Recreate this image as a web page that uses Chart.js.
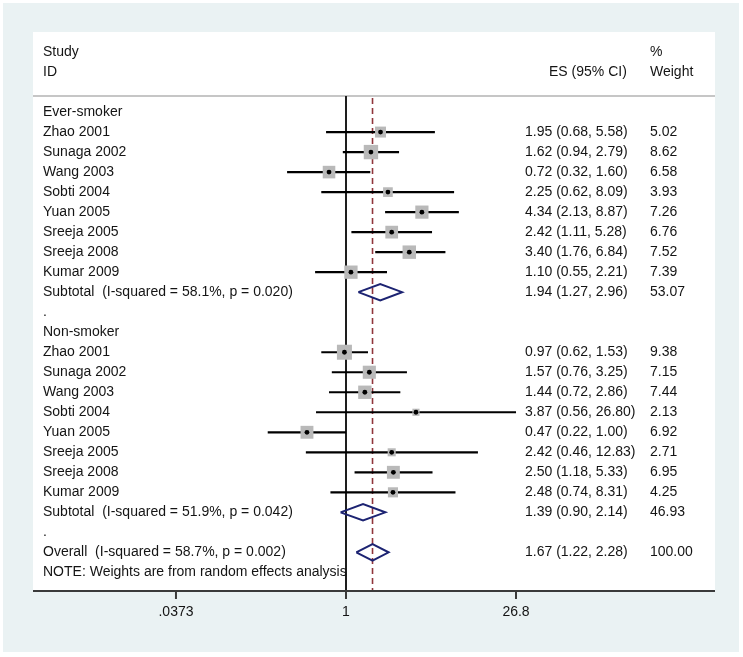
<!DOCTYPE html>
<html>
<head>
<meta charset="utf-8">
<script src="https://cdn.jsdelivr.net/npm/chart.js@4.4.1/dist/chart.umd.min.js"></script>
<style>
  html, body { margin: 0; padding: 0; background: #ffffff; }
  #wrap { width: 743px; height: 657px; }
</style>
</head>
<body>
<div id="wrap"><canvas id="forest" width="743" height="657"></canvas></div>
<script>
// Study data
const studies = ['Zhao 2001', 'Sunaga 2002', 'Wang 2003', 'Sobti 2004', 'Yuan 2005', 'Sreeja 2005', 'Sreeja 2008', 'Kumar 2009'];

const everES = [1.95, 1.62, 0.72, 2.25, 4.34, 2.42, 3.40, 1.10];
const everLo = [0.68, 0.94, 0.32, 0.62, 2.13, 1.11, 1.76, 0.55];
const everHi = [5.58, 2.79, 1.60, 8.09, 8.87, 5.28, 6.84, 2.21];
const everW  = [5.02, 8.62, 6.58, 3.93, 7.26, 6.76, 7.52, 7.39];

const nonES = [0.97, 1.57, 1.44, 3.87, 0.47, 2.42, 2.50, 2.48];
const nonLo = [0.62, 0.76, 0.72, 0.56, 0.22, 0.46, 1.18, 0.74];
const nonHi = [1.53, 3.25, 2.86, 26.80, 1.00, 12.83, 5.33, 8.31];
const nonW  = [9.38, 7.15, 7.44, 2.13, 6.92, 2.71, 6.95, 4.25];

// pooled estimates: [es, lo, hi, weight, I-squared, p]
const everPooled    = [1.94, 1.27, 2.96, 53.07, 58.1, 0.020];
const nonPooled     = [1.39, 0.90, 2.14, 46.93, 51.9, 0.042];
const overallPooled = [1.67, 1.22, 2.28, 100.00, 58.7, 0.002];

const xTicks = [0.0373, 1, 26.8];
const xTickLabels = ['.0373', '1', '26.8'];

// Row layout (top to bottom)
const everRows = studies.map((s, i) => 1 + i);
const nonRows = studies.map((s, i) => 12 + i);
const everSubRow = 9, nonSubRow = 20, overallRow = 22, noteRow = 23;

const FONT = '14px "Liberation Sans", Arial, sans-serif';
const TEXT = '#141414';

// ---- build datasets ----
function ciLine(es, lo, hi, rows) {
  const pts = [];
  es.forEach((v, i) => {
    pts.push({ x: lo[i], y: rows[i] });
    pts.push({ x: hi[i], y: rows[i] });
    pts.push({ x: null, y: null });
  });
  return pts;
}

function diamond(p, row) {
  const h = 0.41;
  return [
    { x: p[1], y: row }, { x: p[0], y: row - h },
    { x: p[2], y: row }, { x: p[0], y: row + h },
    { x: p[1], y: row }, { x: null, y: null }
  ];
}

const boxSide = w => 4.9 * Math.sqrt(w);   // square side proportional to sqrt(weight)

const ciData = ciLine(everES, everLo, everHi, everRows).concat(ciLine(nonES, nonLo, nonHi, nonRows));
const estData = everES.map((v, i) => ({ x: v, y: everRows[i] }))
  .concat(nonES.map((v, i) => ({ x: v, y: nonRows[i] })));
const boxRadius = everW.concat(nonW).map(w => boxSide(w) / Math.SQRT2);
const diamondData = diamond(everPooled, everSubRow)
  .concat(diamond(nonPooled, nonSubRow))
  .concat(diamond(overallPooled, overallRow));

// ---- decorations: background, reference lines, text columns, axis ----
const forestPlugin = {
  id: 'forest',
  beforeDraw(chart) {
    const c = chart.ctx, a = chart.chartArea;
    c.save();
    c.fillStyle = '#ffffff';
    c.fillRect(0, 0, chart.width, chart.height);
    c.fillStyle = '#eaf2f3';
    c.fillRect(3, 3, 736, 649);
    c.fillStyle = '#ffffff';
    c.fillRect(a.left, a.top, a.right - a.left, a.bottom - a.top);
    c.restore();
  },
  beforeDatasetsDraw(chart) {
    const c = chart.ctx, a = chart.chartArea, x = chart.scales.x, y = chart.scales.y;
    const yHead = y.getPixelForValue(-0.8);
    c.save();
    // header separator
    c.strokeStyle = '#c6c6c6';
    c.lineWidth = 2;
    c.beginPath(); c.moveTo(a.left, yHead); c.lineTo(a.right, yHead); c.stroke();
    // line of no effect
    const x1 = x.getPixelForValue(1);
    c.strokeStyle = '#1e1e1e';
    c.lineWidth = 2;
    c.beginPath(); c.moveTo(x1, yHead); c.lineTo(x1, a.bottom); c.stroke();
    // overall estimate, dashed
    const xo = x.getPixelForValue(overallPooled[0]);
    c.strokeStyle = '#90353b';
    c.lineWidth = 1.6;
    c.setLineDash([6, 4]);
    c.beginPath(); c.moveTo(xo, yHead + 2); c.lineTo(xo, a.bottom); c.stroke();
    c.restore();
  },
  afterDraw(chart) {
    const c = chart.ctx, a = chart.chartArea, x = chart.scales.x, y = chart.scales.y;
    const colLabel = a.left + 10, colES = 525, colW = 650;
    const fmt = v => v.toFixed(2);
    const esText = (e, l, h) => fmt(e) + ' (' + fmt(l) + ', ' + fmt(h) + ')';
    c.save();
    c.font = FONT;
    c.fillStyle = TEXT;
    c.textBaseline = 'middle';
    c.textAlign = 'left';
    const put = (t, px, row) => c.fillText(t, px, y.getPixelForValue(row));

    // header
    put('Study', colLabel, -3);
    put('ID', colLabel, -2);
    put('ES (95% CI)', 549, -2);
    put('%', colW, -3);
    put('Weight', colW, -2);

    // groups
    put('Ever-smoker', colLabel, 0);
    studies.forEach((s, i) => {
      put(s, colLabel, everRows[i]);
      put(esText(everES[i], everLo[i], everHi[i]), colES, everRows[i]);
      put(fmt(everW[i]), colW, everRows[i]);
    });
    const pooledRow = (name, p, row) => {
      put(name + '  (I-squared = ' + p[4].toFixed(1) + '%, p = ' + p[5].toFixed(3) + ')', colLabel, row);
      put(esText(p[0], p[1], p[2]), colES, row);
      put(fmt(p[3]), colW, row);
    };
    pooledRow('Subtotal', everPooled, everSubRow);
    put('.', colLabel, everSubRow + 1);

    put('Non-smoker', colLabel, 11);
    studies.forEach((s, i) => {
      put(s, colLabel, nonRows[i]);
      put(esText(nonES[i], nonLo[i], nonHi[i]), colES, nonRows[i]);
      put(fmt(nonW[i]), colW, nonRows[i]);
    });
    pooledRow('Subtotal', nonPooled, nonSubRow);
    put('.', colLabel, nonSubRow + 1);
    pooledRow('Overall', overallPooled, overallRow);
    put('NOTE: Weights are from random effects analysis', colLabel, noteRow);

    // x axis
    c.strokeStyle = '#3a3a3a';
    c.lineWidth = 2;
    c.beginPath(); c.moveTo(a.left, a.bottom); c.lineTo(a.right, a.bottom); c.stroke();
    c.textAlign = 'center';
    xTicks.forEach((v, i) => {
      const px = x.getPixelForValue(v);
      c.beginPath(); c.moveTo(px, a.bottom); c.lineTo(px, a.bottom + 8); c.stroke();
      c.fillText(xTickLabels[i], px, a.bottom + 21);
    });
    c.restore();
  }
};

new Chart(document.getElementById('forest').getContext('2d'), {
  type: 'scatter',
  data: {
    datasets: [
      {
        label: 'CI',
        data: ciData,
        showLine: true,
        spanGaps: false,
        borderColor: '#000000',
        borderWidth: 2.2,
        pointRadius: 0,
        order: 4
      },
      {
        label: 'Weight box',
        data: estData,
        pointStyle: 'rect',
        pointRadius: boxRadius,
        backgroundColor: '#b9b9b9',
        borderWidth: 0,
        order: 3
      },
      {
        label: 'Estimate',
        data: estData,
        pointStyle: 'circle',
        pointRadius: 2.4,
        backgroundColor: '#000000',
        borderWidth: 0,
        order: 2
      },
      {
        label: 'Pooled',
        data: diamondData,
        showLine: true,
        spanGaps: false,
        borderColor: '#1c2372',
        borderWidth: 2,
        pointRadius: 0,
        order: 1
      }
    ]
  },
  options: {
    responsive: false,
    animation: false,
    events: [],
    layout: { padding: { left: 33, right: 28, top: 32, bottom: 66 } },
    plugins: {
      legend: { display: false },
      tooltip: { enabled: false }
    },
    scales: {
      x: {
        type: 'logarithmic',
        display: false,
        bounds: 'data',
        min: Math.exp(-6.054),
        max: Math.exp(7.137)
      },
      y: {
        type: 'linear',
        display: false,
        reverse: true,
        min: -4,
        max: 23.93
      }
    }
  },
  plugins: [forestPlugin]
});
</script>
</body>
</html>
